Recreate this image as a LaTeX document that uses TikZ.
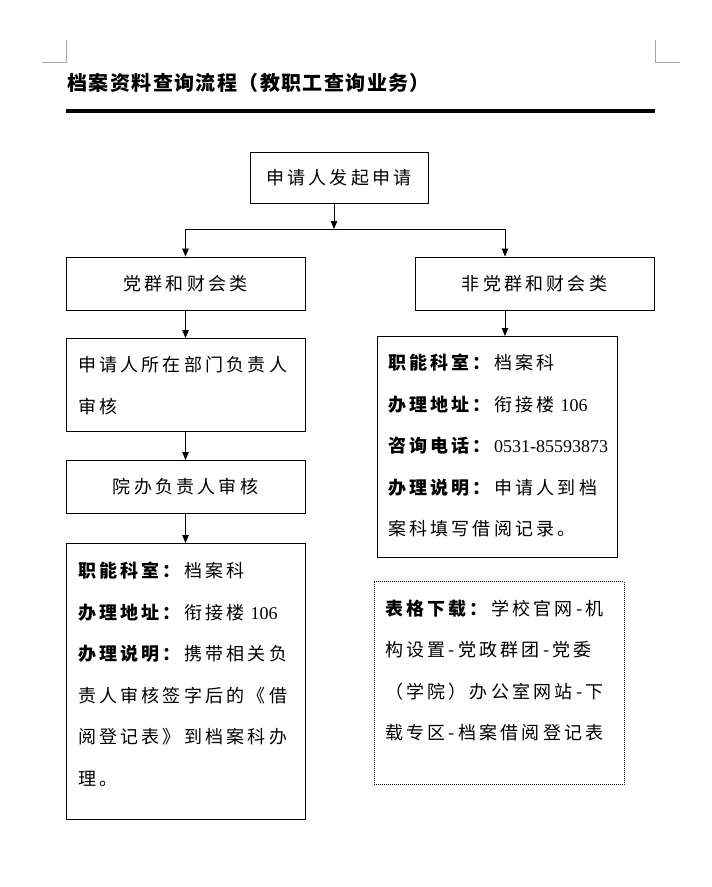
\documentclass[tikz,border=0pt]{standalone}
\usepackage{fontspec}
\usetikzlibrary{arrows.meta, positioning, calc}
\newfontfamily\cjk[LetterSpace=18]{Noto Sans CJK SC}
\newfontfamily\titlecjk[LetterSpace=7]{Noto Sans CJK SC}
\newfontfamily\numfont{Liberation Serif}
\newcommand{\lbl}[1]{\textbf{#1}}
\newcommand{\digits}[1]{\mbox{\numfont #1}}

\begin{document}
\begin{tikzpicture}[x=1pt, y=1pt,
  every node/.style={font=\cjk\fontsize{18}{41.5}\selectfont},
  box/.style={rectangle, draw, line width=1pt, inner sep=0pt,
              minimum width=239pt, minimum height=53pt},
  infobox/.style={rectangle, draw, line width=1pt, inner ysep=0pt,
                  inner xsep=12pt, align=left, anchor=north},
  arr/.style={-{Triangle[length=8pt,width=6.5pt]}, line width=0.8pt},
  cropline/.style={draw=black!35, line width=0.7pt}
]
\useasboundingbox (0,0) rectangle (712,-887);
\draw[cropline] (42,-62) -- (66,-62) -- (66,-40);
\draw[cropline] (680,-62) -- (655,-62) -- (655,-40);
\node[anchor=west, font=\titlecjk\bfseries\fontsize{20}{24}\selectfont] (title) at (64,-83)
  {档案资料查询流程（教职工查询业务）};
\draw[line width=3.5pt] (66,-111) -- (655,-111);

\node[box, minimum width=178pt, minimum height=51pt] (apply) at (339,-177.5) {申请人发起申请};
\coordinate (split) at (334,-229);
\coordinate (rcol) at (505,-229);
\node[box] (party) at (185.5,-283.5) {党群和财会类};
\node[box] (nonparty) at (534.5,-283.5) {非党群和财会类};

\node[infobox, text width=215pt, text height=33pt, text depth=60pt, below=27.5pt of party] (deptcheck)
  {申请人所在部门负责人\\审核};
\node[box, below=28pt of deptcheck] (officecheck) {院办负责人审核};
\node[infobox, text width=215pt, text height=34pt, text depth=242pt, below=29pt of officecheck] (partyinfo)
  {\lbl{职能科室：}档案科\\
   \lbl{办理地址：}衔接楼 \digits{106}\\
   \lbl{办理说明：}携带相关负\\
   责人审核签字后的《借\\
   阅登记表》到档案科办\\
   理。};

\node[infobox, inner xsep=11pt, text width=218pt, text height=33pt, text depth=188pt] (archinfo) at (497,-336)
  {\lbl{职能科室：}档案科\\
   \lbl{办理地址：}衔接楼 \digits{106}\\
   \lbl{咨询电话：}\digits{0531-85593873}\\
   \lbl{办理说明：}申请人到档\\
   案科填写借阅记录。};
\node[infobox, dash pattern=on 0.8pt off 1.2pt, line width=0.8pt, inner xsep=11pt, text width=228pt,
      text height=34pt, text depth=169pt, below=23pt of archinfo, xshift=2pt] (download)
  {\lbl{表格下载：}学校官网-机\\
   构设置-党政群团-党委\\
   （学院）办公室网站-下\\
   载专区-档案借阅登记表};

\draw[arr] (apply.south -| split) -- (split);
\draw[arr] (split) -| (party.north);
\draw[arr] (split) -| (nonparty.north -| rcol);
\draw[arr] (party) -- (deptcheck);
\draw[arr] (deptcheck) -- (officecheck);
\draw[arr] (officecheck) -- (partyinfo);
\draw[arr] (nonparty.south -| rcol) -- (archinfo.north -| rcol);
\end{tikzpicture}
\end{document}
